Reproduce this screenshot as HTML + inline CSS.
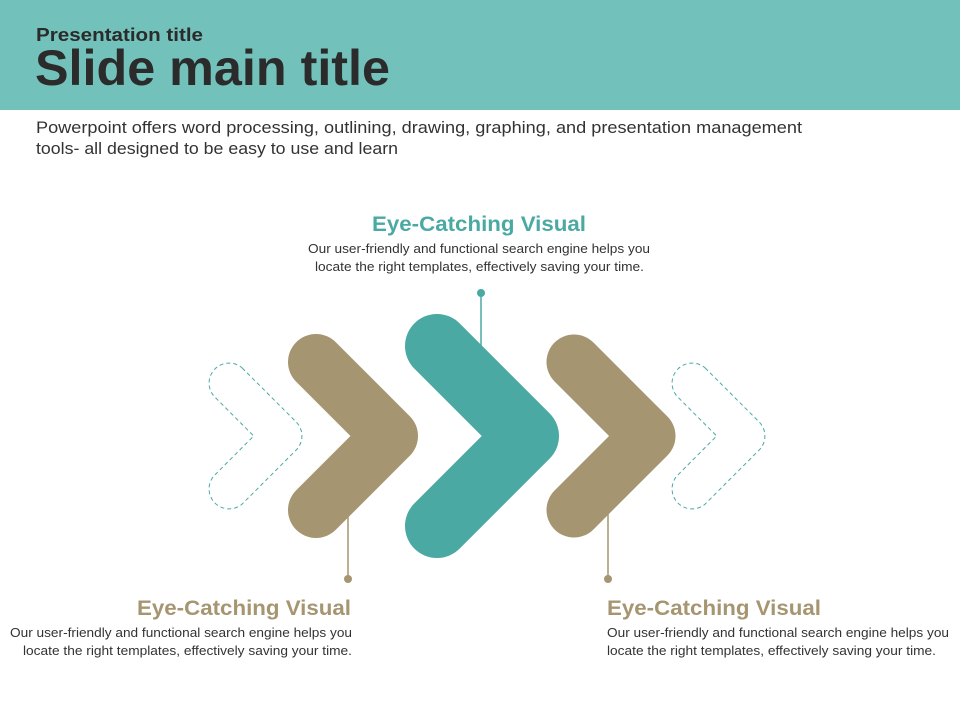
<!DOCTYPE html>
<html><head><meta charset="utf-8"><style>
html,body{margin:0;padding:0;background:#fff;}
svg{display:block;}
text{font-family:"Liberation Sans",sans-serif;}
</style></head><body>
<svg width="960" height="720" viewBox="0 0 960 720" xmlns="http://www.w3.org/2000/svg">
<rect x="0" y="0" width="960" height="110" fill="#72c2bb"/>
<text x="36" y="41" font-size="18" font-weight="bold" fill="#2b2b2b" textLength="167" lengthAdjust="spacingAndGlyphs">Presentation title</text>
<text x="35" y="85" font-size="50" font-weight="bold" fill="#2b2b2b" textLength="355" lengthAdjust="spacingAndGlyphs">Slide main title</text>
<text x="36" y="133" font-size="17" fill="#333" textLength="766" lengthAdjust="spacingAndGlyphs">Powerpoint offers word processing, outlining, drawing, graphing, and presentation management</text>
<text x="36" y="154" font-size="17" fill="#333" textLength="362" lengthAdjust="spacingAndGlyphs">tools- all designed to be easy to use and learn</text>

<!-- dashed chevrons -->
<path d="M242.1,367.9 L296.1,421.9 A20,20 0 0 1 296.1,450.1 L242.1,504.1 A20,20 0 0 1 213.9,475.9 L253.7,436 L213.9,396.1 A20,20 0 0 1 242.1,367.9 Z" fill="none" stroke="#4aa9a3" stroke-width="1" stroke-dasharray="4,3"/>
<g transform="translate(463,0)">
<path d="M242.1,367.9 L296.1,421.9 A20,20 0 0 1 296.1,450.1 L242.1,504.1 A20,20 0 0 1 213.9,475.9 L253.7,436 L213.9,396.1 A20,20 0 0 1 242.1,367.9 Z" fill="none" stroke="#4aa9a3" stroke-width="1" stroke-dasharray="4,3"/>
</g>

<!-- connectors -->
<line x1="481" y1="293" x2="481" y2="350" stroke="#4aa9a3" stroke-width="1.5"/>
<circle cx="481" cy="293" r="4" fill="#4aa9a3"/>
<line x1="348" y1="500" x2="348" y2="579" stroke="#a69571" stroke-width="1.5"/>
<circle cx="348" cy="579" r="4" fill="#a69571"/>
<line x1="608" y1="500" x2="608" y2="579" stroke="#a69571" stroke-width="1.5"/>
<circle cx="608" cy="579" r="4" fill="#a69571"/>

<!-- chevrons -->
<polyline points="316,362 390,436 316,510" fill="none" stroke="#a69571" stroke-width="56" stroke-linecap="round" stroke-linejoin="round"/>
<polyline points="574,362 648,436 574,510" fill="none" stroke="#a69571" stroke-width="55" stroke-linecap="round" stroke-linejoin="round"/>
<polyline points="437,346 527,436 437,526" fill="none" stroke="#4aa9a3" stroke-width="64" stroke-linecap="round" stroke-linejoin="round"/>

<!-- top text -->
<text x="372" y="231" font-size="21" font-weight="bold" fill="#4aa9a3" textLength="214" lengthAdjust="spacingAndGlyphs">Eye-Catching Visual</text>
<text x="308" y="253" font-size="12.5" fill="#333" textLength="342" lengthAdjust="spacingAndGlyphs">Our user-friendly and functional search engine helps you</text>
<text x="315" y="271" font-size="12.5" fill="#333" textLength="329" lengthAdjust="spacingAndGlyphs">locate the right templates, effectively saving your time.</text>

<!-- bottom left -->
<text x="137" y="615" font-size="21" font-weight="bold" fill="#a69571" textLength="214" lengthAdjust="spacingAndGlyphs">Eye-Catching Visual</text>
<text x="10" y="637" font-size="12.5" fill="#333" textLength="342" lengthAdjust="spacingAndGlyphs">Our user-friendly and functional search engine helps you</text>
<text x="23" y="655" font-size="12.5" fill="#333" textLength="329" lengthAdjust="spacingAndGlyphs">locate the right templates, effectively saving your time.</text>

<!-- bottom right -->
<text x="607" y="615" font-size="21" font-weight="bold" fill="#a69571" textLength="214" lengthAdjust="spacingAndGlyphs">Eye-Catching Visual</text>
<text x="607" y="637" font-size="12.5" fill="#333" textLength="342" lengthAdjust="spacingAndGlyphs">Our user-friendly and functional search engine helps you</text>
<text x="607" y="655" font-size="12.5" fill="#333" textLength="329" lengthAdjust="spacingAndGlyphs">locate the right templates, effectively saving your time.</text>
</svg>
</body></html>
